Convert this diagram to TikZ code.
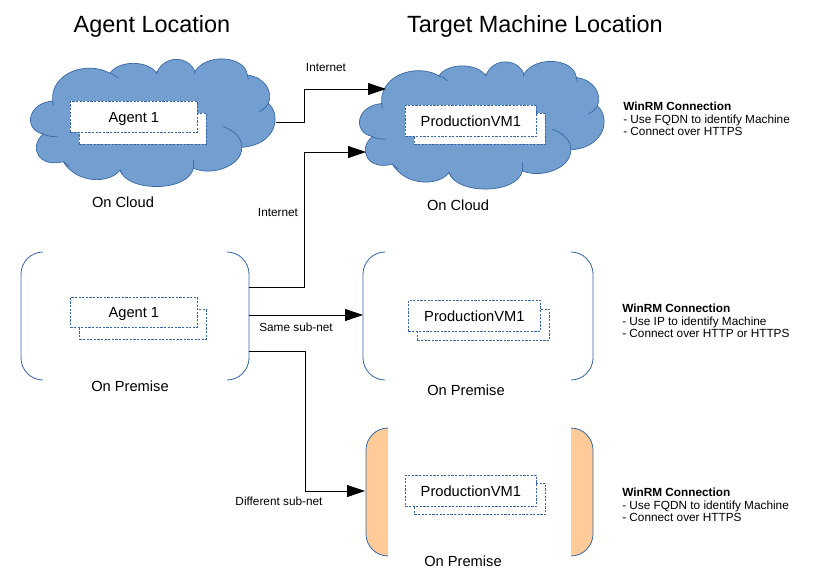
\documentclass[tikz,border=0pt]{standalone}
\usepackage{fontspec}
\setmainfont{Liberation Sans}
\usetikzlibrary{arrows.meta}
\definecolor{cloudfill}{HTML}{729FCF}
\definecolor{edgeblue}{HTML}{3465A4}
\definecolor{premfill}{HTML}{FFCC99}
\newcommand{\leftbr}[3]{(#1+22,#2) .. controls (#1+10,#2) and (#1,#2+10) .. (#1,#2+22) -- (#1,#3-22) .. controls (#1,#3-10) and (#1+10,#3) .. (#1+22,#3)}
\newcommand{\rightbr}[3]{(#1-22,#2) .. controls (#1-10,#2) and (#1,#2+10) .. (#1,#2+22) -- (#1,#3-22) .. controls (#1,#3-10) and (#1-10,#3) .. (#1-22,#3)}
\tikzset{
  x=0.75pt,y=-0.75pt,
  title/.style={font=\fontsize{17.6}{21}\selectfont,inner sep=0},
  boxtext/.style={font=\fontsize{11}{13}\selectfont,inner sep=0},
  small/.style={font=\fontsize{8.85}{11}\selectfont,inner sep=0},
  note/.style={font=\fontsize{8.85}{9.4}\selectfont,inner sep=0,align=left,anchor=north west},
  stackbox/.style={draw=edgeblue,dash pattern=on 1.6pt off 1.1pt,line width=.55pt,anchor=north west,inner sep=0,text=black,text height=8pt,text depth=0pt},
  link/.style={draw=black,line width=.6pt},
  linka/.style={link,-{Triangle[length=13.5pt,width=9pt]}},
  bracket/.style={draw=edgeblue,line width=.6pt},
  mycloud/.pic={
    \begin{scope}[x=.25pt,y=-.25pt]
      \path[fill=cloudfill,draw=edgeblue,line width=.5pt]
        (158,183) .. controls (150,100) and (260,60) .. (330,100)
        .. controls (355,60) and (445,60) .. (470,100)
        .. controls (490,45) and (565,45) .. (585,95)
        .. controls (615,40) and (735,45) .. (742,105)
        .. controls (795,112) and (820,155) .. (805,190)
        .. controls (845,225) and (830,315) .. (725,322)
        .. controls (728,375) and (640,410) .. (580,385)
        .. controls (565,457) and (380,457) .. (360,390)
        .. controls (330,432) and (230,432) .. (190,365)
        .. controls (115,385) and (85,320) .. (130,282)
        .. controls (70,270) and (80,190) .. (158,183) -- cycle;
      \draw[edgeblue,line width=.5pt]
        (330,100) .. controls (340,102) and (348,108) .. (355,115)
        (470,100) -- (468,93) (585,95) -- (582,102)
        (742,105) -- (745,118)
        (805,190) .. controls (800,200) and (790,208) .. (778,215)
        (725,322) .. controls (728,295) and (700,270) .. (670,260)
        (580,385) .. controls (582,375) and (582,368) .. (580,360)
        (360,390) -- (366,402)
        (190,365) -- (208,380)
        (130,282) .. controls (140,288) and (155,290) .. (172,290)
        (158,183) -- (160,196);
    \end{scope}
  }
}
\newcommand{\stack}[8]{% name, x, y, w, h, fill, text, back offset
  \node[stackbox,fill=#6,minimum width=#4*.75pt,minimum height=#5*.75pt] (#1back) at (#2+9,#3+#8) {};
  \node[stackbox,fill=#6,minimum width=#4*.75pt,minimum height=#5*.75pt,boxtext] (#1) at (#2,#3) {#7};
}
\begin{document}
\begin{tikzpicture}
\useasboundingbox (0,0) rectangle (816,586);
\node[title] (t1) at (152,26) {Agent Location};
\node[title] (t2) at (535,26) {Target Machine Location};

\pic at (0,40) {mycloud};
\pic at (329,42.5) {mycloud};

% on premise brackets
\draw[bracket] \leftbr{21}{252}{380};
\draw[bracket] \rightbr{249}{252}{380};
\draw[bracket] \leftbr{363}{252}{380};
\draw[bracket] \rightbr{593}{252}{380};
\path[fill=premfill] \leftbr{366}{428}{556} -- cycle;
\path[fill=premfill] \rightbr{593}{428}{556} -- cycle;
\draw[bracket] \leftbr{366}{428}{556};
\draw[bracket] \rightbr{593}{428}{556};

% stacks
\stack{a1}{70}{101}{127}{31}{white}{Agent 1}{12}
\stack{p1}{405}{105}{131}{31}{white}{ProductionVM1}{8}
\stack{a2}{70}{297}{127}{30}{white}{Agent 1}{12}
\stack{p2}{408}{300}{132}{31}{white}{ProductionVM1}{9}
\stack{p3}{405}{475}{131}{31}{white}{ProductionVM1}{8}

% captions
\node[boxtext] (c1) at (123,202) {On Cloud};
\node[boxtext] (c2) at (458,205) {On Cloud};
\node[boxtext] (c3) at (130,386) {On Premise};
\node[boxtext] (c4) at (466,390) {On Premise};
\node[boxtext] (c5) at (463,561) {On Premise};

% connector ends
\coordinate (s1) at (276,122);
\coordinate (e1) at (386,89);
\coordinate (s2) at (249,287);
\coordinate (e2) at (366,152);
\coordinate (s3) at (249,315);
\coordinate (e3) at (363,315);
\coordinate (s4) at (249,351);
\coordinate (e4) at (365,491);
\draw[linka] (s1) -| (304,89) -- (e1);
\draw[linka] (s2) -| (304,152) -- (e2);
\draw[linka] (s3) -- (e3);
\draw[linka] (s4) -| (305,491) -- (e4);

\node[small] (l1) at (326,67) {Internet};
\node[small] (l2) at (278,212) {Internet};
\node[small] (l3) at (296,327) {Same sub-net};
\node[small] (l4) at (279,501) {Different sub-net};

\node[note] (n1) at (623,102) {\textbf{WinRM Connection}\\- Use FQDN to identify Machine\\- Connect over HTTPS};
\node[note] (n2) at (622,304) {\textbf{WinRM Connection}\\- Use IP to identify Machine\\- Connect over HTTP or HTTPS};
\node[note] (n3) at (622,488) {\textbf{WinRM Connection}\\- Use FQDN to identify Machine\\- Connect over HTTPS};
\end{tikzpicture}
\end{document}
